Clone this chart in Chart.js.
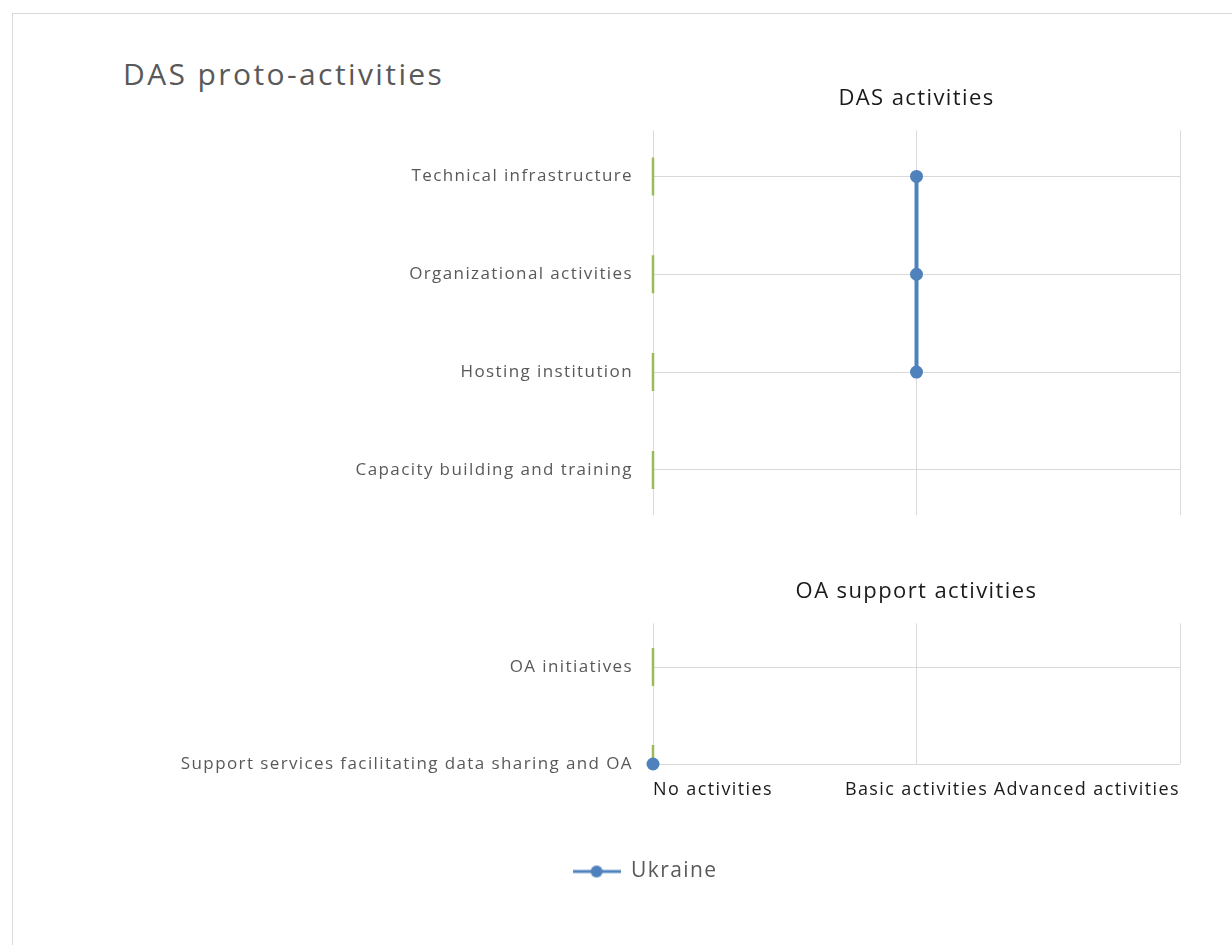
<!DOCTYPE html>
<html>
<head>
<meta charset="utf-8">
<script src="https://cdn.jsdelivr.net/npm/chart.js@4/dist/chart.umd.min.js"></script>
<style>
  body { margin: 0; background: #fff; }
  #frame { position: absolute; left: 12px; top: 13px; width: 1300px; height: 960px; border: 1px solid #d9d9d9; }
  #mainTitle { position: absolute; left: 123px; top: 53px; font-family: "Open Sans", sans-serif; font-size: 30px; letter-spacing: 2.4px; color: #595959; }
  .box { position: absolute; left: 0; width: 1232px; }
</style>
</head>
<body>
<div id="frame"></div>
<div id="mainTitle">DAS proto-activities</div>
<div class="box" style="top:0;height:522px"><canvas id="dasChart"></canvas></div>
<div class="box" style="top:522px;height:423px"><canvas id="oaChart"></canvas></div>
<script>
const levelLabels = ['No activities', 'Basic activities', 'Advanced activities'];

const dasCategories = ['Technical infrastructure', 'Organizational activities', 'Hosting institution', 'Capacity building and training'];
const dasUkraine = [1, 1, 1, null];
const dasOther = [0, 0, 0, 0];

const oaCategories = ['OA initiatives', 'Support services facilitating data sharing and OA'];
const oaUkraine = [null, 0];
const oaOther = [0, 0];

const blue = '#4f81bd';
const green = '#9bbb59';
const gridColor = '#d9d9d9';
const font = 'Open Sans';

// the original text is a bit wider spaced than Open Sans
const spacingPlugin = {
    id: 'spacing',
    beforeUpdate: chart => { chart.ctx.letterSpacing = '1.4px'; },
    beforeDraw: chart => { chart.ctx.letterSpacing = '1.4px'; }
};

// legend marker: line with a dot
const legendMark = document.createElement('canvas');
legendMark.width = 48; legendMark.height = 14;
(function () {
    const c = legendMark.getContext('2d');
    c.strokeStyle = blue; c.lineWidth = 3;
    c.beginPath(); c.moveTo(0, 7); c.lineTo(48, 7); c.stroke();
    c.fillStyle = blue;
    c.beginPath(); c.arc(24, 7, 6, 0, Math.PI * 2); c.fill();
})();

function points(values) {
    return values.map((v, i) => ({ x: v, y: i }));
}

function buildOptions(cats, yMin, yMax, titleText, titlePad, xShow, xHeight, showLegend) {
    return {
        responsive: true,
        maintainAspectRatio: false,
        animation: false,
        indexAxis: 'y',
        layout: { autoPadding: false, padding: { left: 110, right: 52, top: 0, bottom: showLegend ? 53 : 0 } },
        plugins: {
            title: {
                display: true,
                text: titleText,
                fullSize: false,
                color: '#1a1a1a',
                font: { family: font, size: 22, weight: 'normal' },
                padding: titlePad
            },
            legend: {
                display: showLegend,
                position: 'bottom',
                labels: {
                    usePointStyle: true,
                    pointStyleWidth: 48,
                    color: '#595959',
                    font: { family: font, size: 21 },
                    filter: item => item.text === 'Ukraine',
                    generateLabels: chart => Chart.defaults.plugins.legend.labels.generateLabels(chart)
                        .map(l => Object.assign(l, { pointStyle: legendMark }))
                }
            },
            tooltip: { enabled: false }
        },
        scales: {
            x: {
                type: 'linear',
                min: 0,
                max: 2,
                afterBuildTicks: axis => { axis.ticks = levelLabels.map((l, i) => ({ value: i })); },
                afterFit: axis => { axis.height = xHeight; },
                grid: { color: gridColor, drawTicks: false },
                border: { display: false },
                ticks: {
                    display: xShow,
                    align: 'inner',
                    padding: 15,
                    color: '#1a1a1a',
                    font: { family: font, size: 18 },
                    callback: v => levelLabels[v]
                }
            },
            y: {
                type: 'linear',
                reverse: true,
                min: yMin,
                max: yMax,
                afterBuildTicks: axis => { axis.ticks = cats.map((c, i) => ({ value: i })); },
                afterFit: axis => {
                    axis.width = 653 - 110;
                    axis.paddingTop = 0;
                    axis.paddingBottom = 0;
                },
                grid: { color: gridColor, drawTicks: false },
                border: { display: false },
                ticks: {
                    padding: 20,
                    color: '#595959',
                    font: { family: font, size: 17 },
                    callback: v => cats[v]
                }
            }
        }
    };
}

function buildDatasets(ukraine, other) {
    return [
        {
            label: 'Ukraine',
            data: points(ukraine),
            borderColor: blue,
            backgroundColor: blue,
            borderWidth: 4,
            pointRadius: 6.5,
            pointHoverRadius: 6.5,
            pointBorderWidth: 0,
            spanGaps: false,
            clip: false
        },
        {
            label: 'Other',
            data: points(other),
            showLine: false,
            pointStyle: 'line',
            rotation: 90,
            pointRadius: 19,
            pointHoverRadius: 19,
            pointBorderColor: green,
            pointBorderWidth: 2.5,
            borderColor: green,
            clip: { left: 5, top: 0, right: 0, bottom: 0 },
            order: 1
        }
    ];
}

new Chart(document.getElementById('dasChart'), {
    type: 'line',
    data: { datasets: buildDatasets(dasUkraine, dasOther) },
    options: buildOptions(dasCategories, -0.47, 3.46, 'DAS activities', { top: 86, bottom: 18 }, false, 7, false),
    plugins: [spacingPlugin]
});

new Chart(document.getElementById('oaChart'), {
    type: 'line',
    data: { datasets: buildDatasets(oaUkraine, oaOther) },
    options: buildOptions(oaCategories, -0.45, 1, 'OA support activities', { top: 57, bottom: 18 }, true, 87, true),
    plugins: [spacingPlugin]
});
</script>
</body>
</html>
